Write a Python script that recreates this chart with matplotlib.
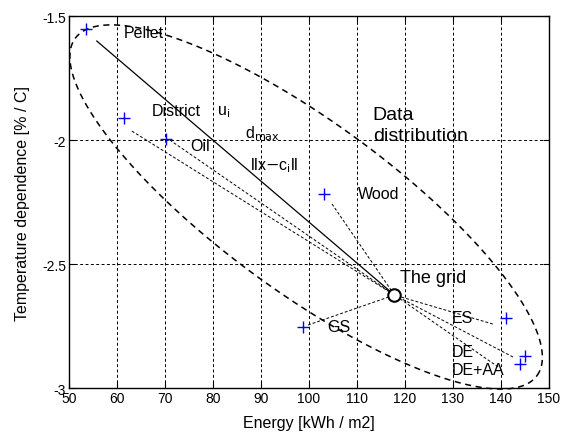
import numpy as np
import matplotlib
matplotlib.use('Agg')
import matplotlib.pyplot as plt

plt.rcParams['font.family'] = ['Liberation Sans', 'DejaVu Sans']

# data points (energy, temperature dependence)
names = ['Pellet', 'District', 'Oil', 'Wood', 'GS', 'ES', 'DE', 'DE+AA']
energy = [53.5, 61.5, 70.3, 103.1, 98.7, 141.1, 145.1, 144.0]
temp_dep = [-1.552, -1.911, -1.996, -2.218, -2.755, -2.719, -2.870, -2.903]

# where each link line to the grid centre ends near the point
link_x = [55.8, 63.1, 71.0, 104.8, 99.8, 138.3, 142.5, 139.4]
link_y = [-1.601, -1.964, -2.000, -2.258, -2.746, -2.742, -2.875, -2.915]
link_style = ['solid', 'dot', 'dot', 'dot', 'dot', 'dot', 'dot', 'dot']

# the grid centre
grid_x = 117.8
grid_y = -2.625

# data distribution ellipse (centre + two axis vectors, data units)
ell_cx, ell_cy = 99.4, -2.270
ell_ax, ell_ay = 48.1, -0.680
ell_bx, ell_by = 10.45, 0.277

# text labels
labels = ['Pellet', 'District', r'u$_{\rm i}$', r'd$_{\rm max}$', r'llx$-$c$_{\rm i}$ll', 'Oil',
          'Wood', 'GS', 'ES', 'DE', 'DE+AA']
label_x = [61.5, 67.3, 80.8, 86.7, 87.7, 75.2, 110.2, 103.75, 129.8, 129.8, 129.8]
label_y = [-1.565, -1.883, -1.883, -1.972, -2.10, -2.024, -2.214, -2.75, -2.714, -2.851, -2.927]

fig = plt.figure(figsize=(5.64, 4.35), dpi=100)
ax = fig.add_axes([0.1223, 0.1057, 0.8511, 0.8552])

ax.set_xlim(50, 150)
ax.set_ylim(-3, -1.5)
ax.set_xticks(np.arange(50, 151, 10))
ax.set_yticks([-3, -2.5, -2, -1.5])
ax.set_yticklabels(['-3', '-2.5', '-2', '-1.5'])
ax.tick_params(direction='in', length=4, labelsize=10, top=True, right=True, pad=2)
ax.grid(True, color='black', linestyle=(0, (3, 2.5)), linewidth=0.7)
for s in ax.spines.values():
    s.set_linewidth(1.0)

# ellipse
t = np.linspace(0, 2 * np.pi, 300)
ex = ell_cx + ell_ax * np.cos(t) + ell_bx * np.sin(t)
ey = ell_cy + ell_ay * np.cos(t) + ell_by * np.sin(t)
ax.plot(ex, ey, color='black', linestyle=(0, (4, 3)), linewidth=1.1, clip_on=False)

# link lines to grid centre
for lx, ly, st in zip(link_x, link_y, link_style):
    if st == 'solid':
        ax.plot([lx, grid_x], [ly, grid_y], color='black', linewidth=0.9)
    else:
        ax.plot([lx, grid_x], [ly, grid_y], color='black', linestyle=(0, (3, 2)), linewidth=0.7)

ax.plot(energy, temp_dep, '+', color='blue', markersize=8, markeredgewidth=1.0, zorder=5)
ax.plot(grid_x, grid_y, 'o', markerfacecolor='white', markeredgecolor='black',
        markersize=9, markeredgewidth=1.5, zorder=6)

for txt, tx, ty in zip(labels, label_x, label_y):
    ax.text(tx, ty, txt, fontsize=11.5, va='center', ha='left')

ax.text(119, -2.556, 'The grid', fontsize=13, va='center', ha='left')
ax.text(113.3, -1.94, 'Data\ndistribution', fontsize=14, va='center', ha='left',
        linespacing=1.3)

ax.set_xlabel('Energy [kWh / m2]', fontsize=11.5, labelpad=7)
ax.set_ylabel('Temperature dependence [% / C]', fontsize=11.5, labelpad=9)

fig.savefig('out.png', dpi=100)
